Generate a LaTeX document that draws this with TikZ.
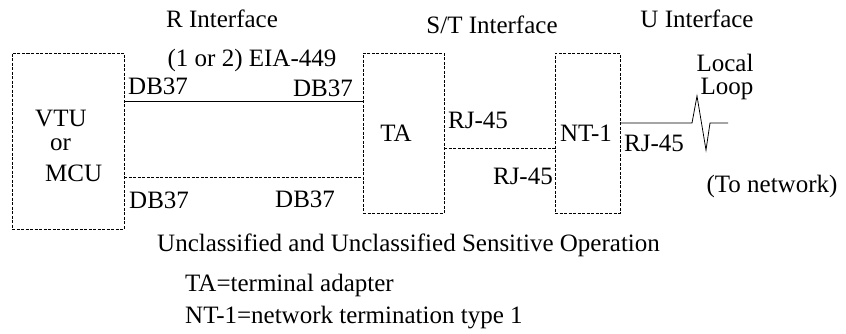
\documentclass[tikz,border=0pt]{standalone}
\usepackage{fontspec}
\setmainfont{Liberation Serif}
\begin{document}
\begin{tikzpicture}[x=1pt,y=-1pt,
  lbl/.style={inner sep=0pt,anchor=base west,font=\fontsize{25}{25}\selectfont},
  lblc/.style={inner sep=0pt,anchor=base,font=\fontsize{25}{25}\selectfont},
  unit/.style={draw,line width=0.8pt,dash pattern=on 3pt off 1.5pt,inner sep=0pt},
  wire/.style={line width=0.8pt},
  dwire/.style={line width=0.8pt,dash pattern=on 3pt off 1.5pt}]
\useasboundingbox (0,0) rectangle (846,333);

% equipment boxes
\node[unit,minimum width=112pt,minimum height=176pt] (vtu) at (68,141) {};
\node[unit,minimum width=81pt,minimum height=160pt] (ta) at (403.5,133) {};
\node[unit,minimum width=65pt,minimum height=160pt] (nt) at (587.5,133) {};

% box captions
\node[lbl] (vtuA) at (35,126) {VTU};
\node[lbl] (vtuB) at (50,150) {or};
\node[lbl] (vtuC) at (45,181) {MCU};
\node[lblc] (taT) at (396,141) {TA};
\node[lblc] (ntT) at (586,141) {NT-1};

% interface headings
\node[lblc] (rif) at (222,27) {R Interface};
\node[lblc] (stif) at (492,33) {S/T Interface};
\node[lblc] (uif) at (697,27) {U Interface};
\node[lblc] (eia) at (252,66) {(1 or 2) EIA-449};

% connector labels
\node[lbl] (db1) at (128,94) {DB37};
\node[lbl,anchor=base east] (db2) at (353,96) {DB37};
\node[lbl] (db3) at (129,208) {DB37};
\node[lbl] (db4) at (275,207) {DB37};
\node[lbl] (rj1) at (448,128) {RJ-45};
\node[lbl,anchor=base east] (rj2) at (553,184) {RJ-45};
\node[lbl] (rj3) at (624,151) {RJ-45};
\node[lblc] (loc1) at (725,71) {Local};
\node[lblc] (loc2) at (727,94) {Loop};
\node[lblc] (net) at (772,192) {(To network)};

% footnotes
\node[lbl] (cls) at (157,251) {Unclassified and Unclassified Sensitive Operation};
\node[lbl] (fnA) at (185,291) {TA=terminal adapter};
\node[lbl] (fnB) at (185,323) {NT-1=network termination type 1};

% links
\draw[wire] (vtu.east |- 0,101) -- (ta.west |- 0,101);
\draw[dwire] (vtu.east |- 0,177) -- (ta.west |- 0,177);
\draw[dwire] (ta.east |- 0,148) -- (nt.west |- 0,148);

% local loop with break symbol
\coordinate (loopend) at (728,123);
\draw[wire] (nt.east |- 0,123) -- (692,123) -- (697,96) -- (706,150) -- (710,123) -- (loopend);
\end{tikzpicture}
\end{document}
